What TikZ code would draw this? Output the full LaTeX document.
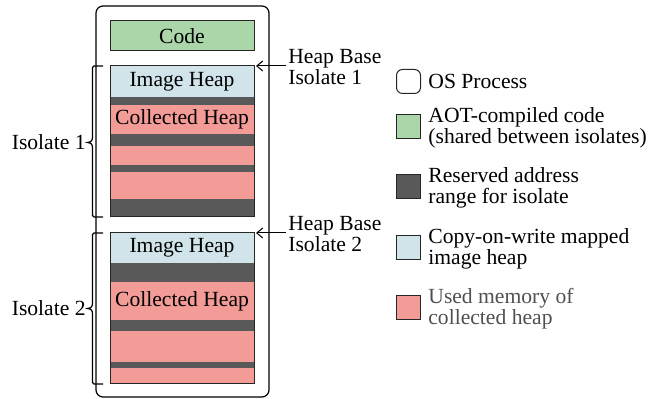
\documentclass[tikz,border=0pt]{standalone}
\usepackage{fontspec}
\setmainfont{Liberation Serif}
\usetikzlibrary{arrows.meta}
\definecolor{codegreen}{RGB}{170,214,170}
\definecolor{imgblue}{RGB}{208,228,234}
\definecolor{heappink}{RGB}{243,155,150}
\definecolor{resdark}{RGB}{89,89,89}
\definecolor{graytext}{RGB}{80,80,80}
\begin{document}
\begin{tikzpicture}[x=0.5pt,y=-0.5pt,
  every node/.style={font=\fontsize{10.8}{10.5}\selectfont, inner sep=0pt},
  outl/.style={draw=black!85, line width=0.5pt},
  lbl/.style={align=left, anchor=west},
  legbox/.style={draw=black!85, line width=0.5pt, minimum width=12pt, minimum height=12pt},
  ptr/.style={line width=0.5pt, -{Straight Barb[length=3pt,width=5pt]}}]
\useasboundingbox (0,0) rectangle (659,399);
% OS process
\draw[line width=0.6pt, rounded corners=3.5pt] (96,6) rectangle (269,397);
% Code
\node[outl, fill=codegreen, minimum width=72pt, minimum height=15pt] (code) at (182,36) {Code};
% Isolate 1 stack
\fill[imgblue] (110,66) rectangle (254,97);
\fill[resdark] (110,97) rectangle (254,105);
\fill[heappink] (110,105) rectangle (254,134);
\fill[resdark] (110,134) rectangle (254,146);
\fill[heappink] (110,146) rectangle (254,165);
\fill[resdark] (110,165) rectangle (254,172);
\fill[heappink] (110,172) rectangle (254,199);
\fill[resdark] (110,199) rectangle (254,217);
\draw[outl] (110,66) rectangle (254,217);
\node (ih1) at (182,81.5) {Image Heap};
\node (ch1) at (182,119.5) {Collected Heap};
\coordinate (top1) at (256,66);
% Isolate 2 stack
\fill[imgblue] (110,233) rectangle (254,263);
\fill[resdark] (110,263) rectangle (254,282);
\fill[heappink] (110,282) rectangle (254,320);
\fill[resdark] (110,320) rectangle (254,331);
\fill[heappink] (110,331) rectangle (254,362);
\fill[resdark] (110,362) rectangle (254,368);
\fill[heappink] (110,368) rectangle (254,384);
\draw[outl] (110,233) rectangle (254,384);
\node (ih2) at (182,248) {Image Heap};
\node (ch2) at (182,301) {Collected Heap};
\coordinate (top2) at (256,233);
% Heap base labels
\node[lbl] (hb1) at (288,67) {Heap Base\\Isolate 1};
\node[lbl] (hb2) at (288,234) {Heap Base\\Isolate 2};
\draw[ptr] (hb1.west) ++(-2,-1) -- (top1);
\draw[ptr] (hb2.west) ++(-2,-1) -- (top2);
% braces
\draw[line width=0.6pt] (103,66) -- (94,66) -- (92.5,67.5) -- (92.5,137) .. controls (92.5,141) and (91,142) .. (87.5,142.5) .. controls (91,143) and (92.5,144) .. (92.5,148) -- (92.5,215.5) -- (94,217) -- (103,217);
\draw[line width=0.6pt] (103,233) -- (94,233) -- (92.5,234.5) -- (92.5,303) .. controls (92.5,307) and (91,308) .. (87.5,308.5) .. controls (91,309) and (92.5,310) .. (92.5,314) -- (92.5,382.5) -- (94,384) -- (103,384);
\node[anchor=east] (iso1) at (86,142) {Isolate 1};
\node[anchor=east] (iso2) at (86,308) {Isolate 2};
% legend
\node[legbox, rounded corners=3pt] (lg1) at (408.5,81.5) {};
\node[lbl] (lt1) at (428,81.5) {OS Process};
\node[legbox, fill=codegreen] (lg2) at (408.5,127) {};
\node[lbl] (lt2) at (428,128) {AOT-compiled code\\(shared between isolates)};
\node[legbox, fill=resdark] (lg3) at (408.5,187) {};
\node[lbl] (lt3) at (428,188) {Reserved address\\range for isolate};
\node[legbox, fill=imgblue] (lg4) at (408.5,248) {};
\node[lbl] (lt4) at (428,249) {Copy-on-write mapped\\image heap};
\node[legbox, fill=heappink] (lg5) at (408.5,308) {};
\node[lbl, text=graytext] (lt5) at (428,309) {Used memory of\\collected heap};
\end{tikzpicture}
\end{document}
